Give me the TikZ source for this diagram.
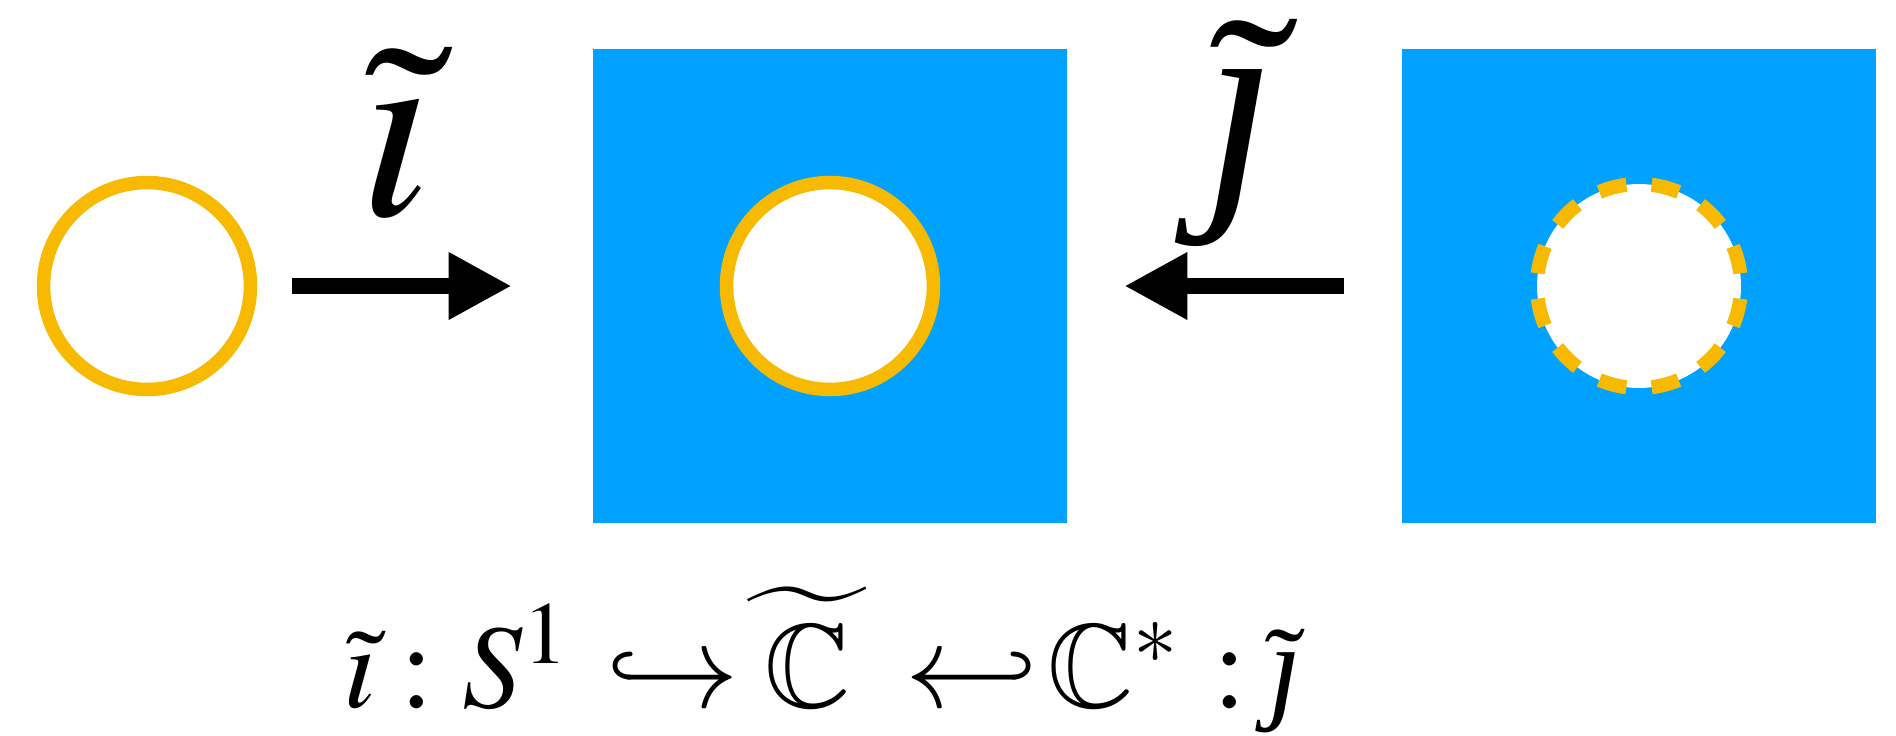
\documentclass[tikz,border=0pt]{standalone}
\usepackage{mathptmx}
\usepackage{amssymb}
\usepackage{fontspec}
\setmainfont{Liberation Serif}
\usetikzlibrary{arrows.meta}
\definecolor{planeblue}{RGB}{0,161,255}
\definecolor{ringyellow}{RGB}{247,186,0}
\newcommand\dlj{\mbox{\itshape ȷ}}

\begin{document}
\begin{tikzpicture}[
    x=0.02cm, y=-0.02cm,
    plane/.style={fill=planeblue, minimum size=9.48cm, inner sep=0pt},
    ring/.style={circle, draw=ringyellow, fill=white, line width=7.7pt, minimum size=4.14cm, inner sep=0pt},
    holering/.style={ring, line width=8pt, minimum size=4.08cm,
        dash pattern=on 15.93pt off 14.46pt, dash phase=23.16pt},
    incl/.style={line width=9.1pt, -{Triangle[length=1.26cm,width=1.26cm]}},
    big/.style={font=\fontsize{150}{150}\selectfont, inner sep=0pt},
    seq/.style={font=\fontsize{68}{68}\selectfont, inner sep=0pt, anchor=base west},
]
    \useasboundingbox (0,0) rectangle (1896,735);

    % Planes
    \node[plane] (dom) at (830,286) {};
    \node[plane] (punct) at (1639,286) {};

    % Circles
    \node[ring] (src) at (147,286) {};
    \node[ring] (img) at (dom.center) {};
    \node[holering] (hole) at (punct.center) {};

    % Maps
    \draw[incl] ([xshift=0.7cm]src.east) -- ([xshift=-1.62cm]dom.west);
    \draw[incl] ([xshift=-1.16cm]punct.west) -- ([xshift=1.14cm]dom.east);

    % Labels
    \node[big, anchor=base] (ilab) at (396,215) {$\tilde{\imath}$};
    \node[big, anchor=base] (jlab) at (1240,190) {$\skew{2}\tilde{\dlj}$};

    % Inclusions, piece by piece
    \foreach \x/\t [count=\k] in {343/{\tilde{\imath}}, 400/{:}, 462/{S^1},
        606/{\hookrightarrow}, 724/{\widetilde{\mkern6mu\mathbb{C}\mkern6mu}}, 905/{\hookleftarrow},
        1047/{\mathbb{C}^*}, 1213/{:}, 1268/{\tilde{\dlj}}}
        \node[seq] (seq\k) at (\x,707) {$\t$};

\end{tikzpicture}
\end{document}
